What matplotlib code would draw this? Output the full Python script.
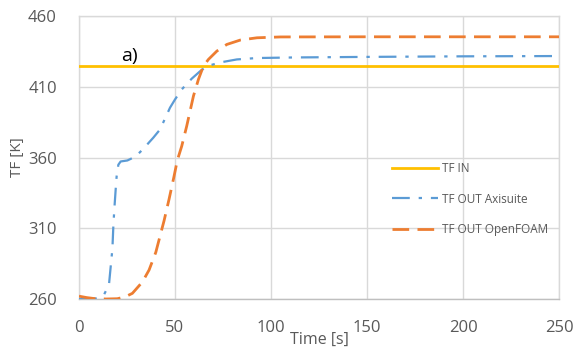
import matplotlib
matplotlib.use("Agg")
import matplotlib.pyplot as plt

# Data
t_in = [0, 250]
tf_in = [425, 425]

t_axi = [0, 5, 10, 13, 15.6, 16.8, 17.4, 17.9, 18.4, 19.1, 19.6, 20.5, 21.7, 25.2, 29.5, 33.4,
         38.7, 42.2, 47.4, 50, 53.5, 58.7, 63.1, 66.6, 74.4, 82.2, 92.7, 111.8, 150, 200, 250]
tf_axi = [260, 260, 260.5, 263, 270, 287, 295.6, 311.9, 323.5, 337.4, 346.7, 354.9, 357.2, 357.9, 360.7, 366,
          374, 379.8, 395.2, 401, 408.1, 415.7, 421, 424.6, 427.4, 429.3, 430.3, 430.7, 431.1, 431.5, 431.7]

t_ofm = [0, 4, 8, 14, 20, 24, 27.8, 33, 36.5, 40, 42.5, 44.3, 46.9, 49.5, 51.2, 53.5, 56.1, 59.6,
         62.2, 64.8, 67.4, 71.8, 77, 84, 92.7, 104.9, 150, 200, 250]
tf_ofm = [262, 261, 260.3, 260, 260.2, 261.5, 264, 272, 280.5, 293, 306, 315.3, 330.5, 346.7, 358, 368, 382.2, 403.4,
          415.2, 424.6, 429.3, 435.2, 439.9, 443, 444.6, 445.2, 445.3, 445.3, 445.3]

x_ticks = [0, 50, 100, 150, 200, 250]
y_ticks = [260, 310, 360, 410, 460]

fig = plt.figure(figsize=(5.76, 3.59), dpi=100)
ax = fig.add_axes([79/576, 1-299/359, 480/576, 283/359])

grid_c = "#d9d9d9"
txt_c = "#595959"

ax.plot(t_in, tf_in, color="#FFC000", lw=2.0, label="TF IN", zorder=3)
ax.plot(t_axi, tf_axi, color="#5B9BD5", lw=1.6, dashes=(8, 4, 1.5, 4), label="TF OUT Axisuite", zorder=3)
ax.plot(t_ofm, tf_ofm, color="#ED7D31", lw=2.0, dashes=(6, 3), label="TF OUT OpenFOAM", zorder=3)

ax.set_xlim(0, 250)
ax.set_ylim(260, 460)
ax.set_xticks(x_ticks)
ax.set_yticks(y_ticks)
ax.grid(True, color=grid_c, lw=1.0)
ax.set_axisbelow(True)
for s in ax.spines.values():
    s.set_color(grid_c)
    s.set_linewidth(1.0)
ax.spines["bottom"].set_color("#bfbfbf")
ax.tick_params(length=0, labelsize=12, labelcolor=txt_c)
ax.tick_params(axis="x", pad=15)
ax.tick_params(axis="y", pad=16)
for lbl in ax.get_xticklabels() + ax.get_yticklabels():
    lbl.set_fontfamily("Open Sans")

ax.set_xlabel("Time [s]", fontsize=11.5, color=txt_c, family="Open Sans", labelpad=-3)
ax.set_ylabel("TF [K]", fontsize=11, color=txt_c, family="Open Sans", labelpad=2)

ax.text(22, 428.5, "a)", fontsize=14, color="black", family="Open Sans")

leg = ax.legend(loc="upper left", bbox_to_anchor=(0.63, 0.52), frameon=False,
                fontsize=8.5, handlelength=3.9, labelspacing=1.45, handletextpad=0.3)
for tx in leg.get_texts():
    tx.set_color(txt_c)
    tx.set_fontfamily("Open Sans")

fig.savefig("out.png", dpi=100)
